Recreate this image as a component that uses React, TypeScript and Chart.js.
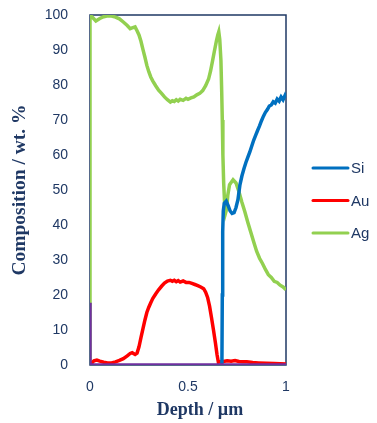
import React, { useEffect, useRef } from "react";
import { Chart, registerables } from "chart.js";

Chart.register(...registerables);

const NAVY = "#1F3864";

const seriesNames = ["Si", "Au", "Ag"];
const seriesColors = ["#0070C0", "#FF0000", "#92D050"];
const baseColor = "#7030A0";

const xTicks = [0, 0.5, 1];
const yTicks = [0, 10, 20, 30, 40, 50, 60, 70, 80, 90, 100];

const siDepth = [0.673, 0.675, 0.677, 0.68, 0.685, 0.695, 0.705, 0.715, 0.725, 0.735, 0.745, 0.755, 0.765, 0.775, 0.785, 0.795, 0.805, 0.815, 0.825, 0.835, 0.845, 0.855, 0.865, 0.875, 0.885, 0.895, 0.905, 0.915, 0.925, 0.935, 0.945, 0.955, 0.965, 0.975, 0.985, 0.995, 1.0];
const siValue = [0, 20, 38, 44, 46.2, 46.8, 45.5, 44, 43.3, 43.5, 45, 47.3, 51.5, 54, 56, 57.8, 59.3, 60.8, 62.5, 64.2, 65.6, 67, 68.3, 69.8, 71.1, 72.2, 73, 74, 74.3, 75.2, 74.8, 76, 75.4, 76.6, 75.8, 77, 76.4];

const auDepth = [0, 0.01, 0.02, 0.035, 0.05, 0.07, 0.09, 0.11, 0.13, 0.15, 0.17, 0.19, 0.205, 0.215, 0.23, 0.24, 0.25, 0.26, 0.27, 0.28, 0.29, 0.3, 0.31, 0.32, 0.335, 0.35, 0.365, 0.38, 0.395, 0.41, 0.42, 0.43, 0.44, 0.45, 0.46, 0.475, 0.49, 0.505, 0.52, 0.535, 0.55, 0.565, 0.58, 0.59, 0.6, 0.61, 0.62, 0.63, 0.64, 0.648, 0.655, 0.665, 0.68, 0.7, 0.72, 0.74, 0.76, 0.78, 0.8, 0.83, 0.86, 0.9, 0.94, 1.0];
const auValue = [0.3, 0.6, 1.2, 1.4, 1.1, 0.8, 0.6, 0.6, 0.9, 1.3, 1.8, 2.6, 3.3, 3.5, 3.0, 3.4, 5.2, 7.8, 10.3, 12.8, 15, 16.5, 17.8, 19, 20.3, 21.5, 22.5, 23.4, 24.0, 24.2, 23.9, 24.2, 23.8, 24.1, 23.7, 24, 23.6, 23.6, 23.3, 23, 22.7, 22.3, 21.8, 20.8, 19.3, 16.8, 13.5, 10, 6.3, 3, 0.8, 0.9, 1, 1.2, 1.1, 1.3, 1.0, 0.9, 0.9, 0.7, 0.6, 0.5, 0.4, 0.3];

const agDepth = [0, 0, 0.01, 0.03, 0.05, 0.07, 0.09, 0.11, 0.13, 0.15, 0.17, 0.19, 0.205, 0.215, 0.23, 0.24, 0.25, 0.26, 0.27, 0.28, 0.29, 0.3, 0.31, 0.32, 0.335, 0.35, 0.365, 0.38, 0.395, 0.41, 0.42, 0.43, 0.44, 0.45, 0.46, 0.475, 0.49, 0.5, 0.515, 0.53, 0.545, 0.56, 0.575, 0.59, 0.605, 0.615, 0.625, 0.635, 0.645, 0.652, 0.657, 0.662, 0.668, 0.672, 0.675, 0.678, 0.682, 0.687, 0.692, 0.697, 0.703, 0.712, 0.73, 0.745, 0.76, 0.775, 0.79, 0.805, 0.82, 0.835, 0.85, 0.865, 0.88, 0.895, 0.91, 0.925, 0.94, 0.955, 0.97, 0.985, 1.0];
const agValue = [0, 100, 99.5, 98.3, 99, 99.5, 99.8, 99.7, 99.4, 98.9, 98, 97, 96.1, 96.3, 96.6, 95.5, 94.3, 92.5, 90.2, 88, 85.6, 83.8, 82.3, 81.2, 79.8, 78.5, 77.6, 76.6, 75.8, 75.1, 75.5, 75.3, 75.8, 75.4, 75.9, 75.6, 76.2, 75.9, 76.3, 76.6, 77.2, 77.6, 78.4, 79.8, 81.7, 84, 86.8, 89.8, 92.6, 94.3, 95.2, 93, 87, 78, 70, 60, 52, 46, 43.5, 44.5, 48.5, 51.5, 52.9, 52, 49.5, 46.5, 43.8, 40.8, 38, 35.2, 32.5, 30.5, 29, 27.3, 25.8, 25, 23.9, 23.6, 22.8, 22.3, 21.5];

const baseDepth = [0, 0, 1];
const baseValue = [17.8, 0, 0];

const pts = (xs: number[], ys: number[]) => xs.map((x, i) => ({ x, y: ys[i] }));

const framePlugin = {
  id: "frame",
  beforeDatasetsDraw(chart: any) {
    const { ctx, chartArea } = chart;
    const { left, top, right, bottom } = chartArea;
    ctx.save();
    ctx.strokeStyle = NAVY;
    ctx.lineWidth = 1.5;
    ctx.strokeRect(left, top, right - left, bottom - top);
    ctx.restore();
  },
};

const extrasPlugin = {
  id: "extras",
  afterDraw(chart: any) {
    const { ctx, chartArea } = chart;
    const { left, top, right, bottom } = chartArea;
    ctx.save();
    ctx.fillStyle = NAVY;
    ctx.font = "bold 18px 'Liberation Serif'";
    ctx.textAlign = "center";
    ctx.textBaseline = "middle";
    ctx.fillText("Depth / µm", (left + right) / 2 + 12, bottom + 45);
    const midY = (top + bottom) / 2;
    const startY = midY - 22;
    const step = 32.5;
    const lx = right + 27;
    const len = 35;
    ctx.font = "15px 'Liberation Sans'";
    ctx.textAlign = "left";
    seriesNames.forEach((name, i) => {
      const y = startY + i * step;
      ctx.strokeStyle = seriesColors[i];
      ctx.lineWidth = 3;
      ctx.lineCap = "round";
      ctx.beginPath();
      ctx.moveTo(lx, y);
      ctx.lineTo(lx + len, y);
      ctx.stroke();
      ctx.fillStyle = NAVY;
      ctx.fillText(name, lx + len + 3, y + 1);
    });
    ctx.restore();
  },
};

export default function App() {
  const ref = useRef<HTMLCanvasElement | null>(null);
  useEffect(() => {
    if (!ref.current) return;
    const allX = [siDepth, auDepth, agDepth];
    const allY = [siValue, auValue, agValue];
    const datasets: any[] = seriesNames.map((name, i) => ({
      label: name,
      data: pts(allX[i], allY[i]),
      borderColor: seriesColors[i],
      backgroundColor: seriesColors[i],
      borderWidth: 3.5,
      pointRadius: 0,
      tension: 0,
      fill: false,
      order: 1,
    }));
    datasets.push({
      label: "",
      data: pts(baseDepth, baseValue),
      borderColor: baseColor,
      backgroundColor: baseColor,
      borderWidth: 3.5,
      pointRadius: 0,
      tension: 0,
      fill: false,
      order: 0,
    });
    const chart = new Chart(ref.current, {
      type: "line",
      data: { datasets },
      options: {
        animation: false,
        responsive: false,
        layout: { autoPadding: false, padding: { top: 15, right: 91, left: 0, bottom: 0 } },
        plugins: { legend: { display: false }, tooltip: { enabled: false } },
        scales: {
          x: {
            type: "linear",
            min: 0,
            max: 1,
            afterFit: (s: any) => {
              s.height = 58;
              s.paddingLeft = 0;
              s.paddingRight = 0;
            },
            afterBuildTicks: (s: any) => { s.ticks = xTicks.map((v) => ({ value: v })); },
            grid: { display: false, drawTicks: false },
            border: { display: false },
            ticks: {
              color: NAVY,
              font: { family: "'Liberation Sans'", size: 14 },
              padding: 14,
              callback: (v: any) => String(v),
            },
          },
          y: {
            min: 0,
            max: 100,
            afterFit: (s: any) => {
              s.width = 90;
              s.paddingTop = 0;
              s.paddingBottom = 0;
            },
            afterBuildTicks: (s: any) => { s.ticks = yTicks.map((v) => ({ value: v })); },
            grid: { display: false, drawTicks: false },
            border: { display: false },
            ticks: { color: NAVY, font: { family: "'Liberation Sans'", size: 14 }, padding: 22 },
            title: {
              display: true,
              text: "Composition / wt. %",
              color: NAVY,
              font: { family: "'Liberation Serif'", size: 19.5, weight: "bold" },
              padding: { top: 8, bottom: 0 },
            },
          },
        },
      },
      plugins: [framePlugin, extrasPlugin],
    });
    return () => chart.destroy();
  }, []);
  return (
    <div style={{ position: "absolute", left: 0, top: 0, width: 377, height: 423, background: "#fff" }}>
      <canvas ref={ref} width={377} height={423} style={{ display: "block" }} />
    </div>
  );
}
